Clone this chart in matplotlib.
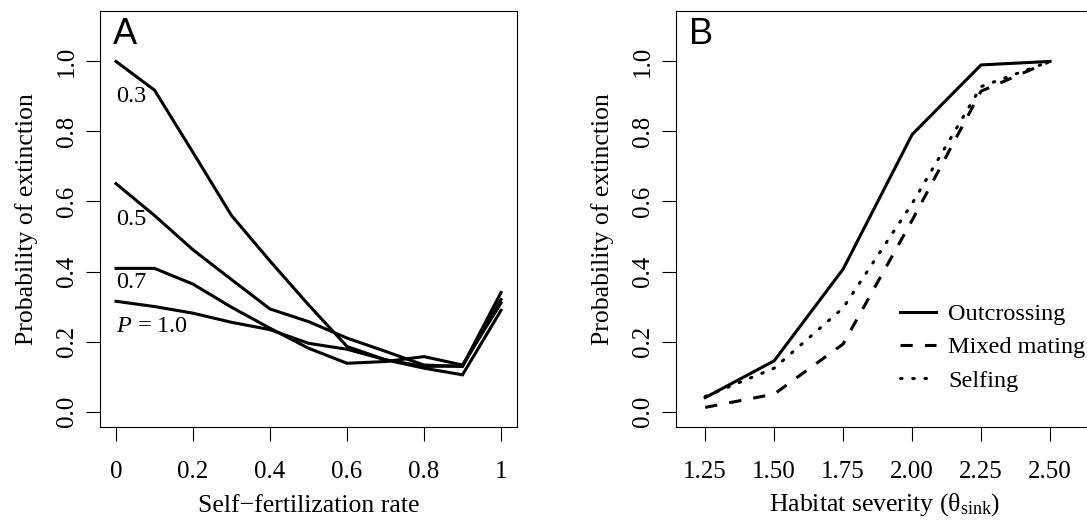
import matplotlib
matplotlib.use('agg')
import matplotlib.pyplot as plt

plt.rcParams['font.family'] = ['Liberation Serif', 'DejaVu Serif']
plt.rcParams['mathtext.fontset'] = 'custom'
plt.rcParams['mathtext.rm'] = 'Liberation Serif'
plt.rcParams['mathtext.it'] = 'Liberation Serif:italic'

# panel A: extinction vs selfing rate, one curve per P
selfing_rate = [0, 0.1, 0.2, 0.3, 0.4, 0.5, 0.6, 0.7, 0.8, 0.9, 1.0]
ext_p03 = [1.0, 0.918, 0.74, 0.56, 0.43, 0.305, 0.186, 0.148, 0.129, 0.13, 0.34]
ext_p05 = [0.651, 0.56, 0.462, 0.377, 0.293, 0.257, 0.21, 0.172, 0.133, 0.129, 0.32]
ext_p07 = [0.409, 0.409, 0.364, 0.298, 0.238, 0.181, 0.138, 0.143, 0.157, 0.133, 0.31]
ext_p10 = [0.315, 0.30, 0.281, 0.255, 0.234, 0.195, 0.178, 0.148, 0.124, 0.105, 0.289]
curve_labels = ['0.3', '0.5', '0.7', '$P$ = 1.0']
label_y = [0.90, 0.548, 0.368, 0.242]

# panel B: extinction vs habitat severity
severity = [1.25, 1.50, 1.75, 2.00, 2.25, 2.50]
outcrossing = [0.04, 0.145, 0.407, 0.791, 0.99, 1.0]
mixed = [0.012, 0.05, 0.193, 0.546, 0.915, 1.0]
selfing = [0.043, 0.124, 0.296, 0.594, 0.928, 1.0]

fs_tick = 18
fs_lab = 18.5
fs_small = 17.5
lw = 2.2

fig = plt.figure(figsize=(10.87, 5.2), dpi=100)
axA = fig.add_axes([100/1087, 1-427/520, 417/1087, 416/520])
axB = fig.add_axes([676/1087, 1-427/520, 417/1087, 416/520])

for y in [ext_p03, ext_p05, ext_p07, ext_p10]:
    axA.plot(selfing_rate, y, color='black', lw=lw, solid_joinstyle='miter')
for lab, yy in zip(curve_labels, label_y):
    axA.text(0.0, yy, lab, fontsize=fs_small, ha='left', va='center')

axB.plot(severity, outcrossing, color='black', lw=lw, label='Outcrossing')
axB.plot(severity, mixed, color='black', lw=lw, dashes=(4, 4), label='Mixed mating')
axB.plot(severity, selfing, color='black', lw=lw, linestyle=(0, (0.5, 3.5)),
         dash_capstyle='round', label='Selfing')
leg = axB.legend(loc='upper left', bbox_to_anchor=(0.538, 0.298), frameon=False,
                 fontsize=fs_small, handlelength=1.48, handletextpad=0.5,
                 labelspacing=0.47, borderpad=0, borderaxespad=0)

axA.set_xlim(-0.0416, 1.0416)
axA.set_xticks([0, 0.2, 0.4, 0.6, 0.8, 1.0])
axA.set_xticklabels(['0', '0.2', '0.4', '0.6', '0.8', '1'])
axA.set_xlabel('Self\u2212fertilization rate', fontsize=fs_lab, labelpad=8.5)

axB.set_xlim(1.144, 2.656)
axB.set_xticks(severity)
axB.set_xticklabels(['1.25', '1.50', '1.75', '2.00', '2.25', '2.50'])
axB.set_xlabel('Habitat severity (\u03b8$_{\\mathrm{sink}}$)', fontsize=fs_lab, labelpad=6)

for ax, letter in [(axA, 'A'), (axB, 'B')]:
    ax.set_ylim(-0.044, 1.144)
    ax.set_yticks([0, 0.2, 0.4, 0.6, 0.8, 1.0])
    ax.set_yticklabels(['0.0', '0.2', '0.4', '0.6', '0.8', '1.0'],
                       rotation=90, va='center')
    ax.set_ylabel('Probability of extinction', fontsize=fs_lab, labelpad=13)
    ax.tick_params(axis='x', direction='out', length=10, width=0.8,
                   labelsize=fs_tick, pad=14.5)
    ax.tick_params(axis='y', direction='out', length=10, width=0.8,
                   labelsize=fs_tick, pad=6)
    for s in ax.spines.values():
        s.set_linewidth(0.8)
    ax.text(0.031, 0.985, letter, transform=ax.transAxes, fontsize=26,
            family='Liberation Sans', ha='left', va='top')

fig.savefig('out.png', dpi=100)
